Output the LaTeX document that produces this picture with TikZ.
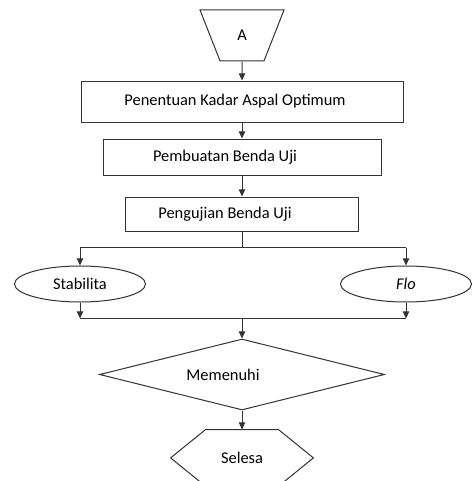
\documentclass[tikz,border=0pt]{standalone}
\usepackage{fontspec}
\setmainfont{Carlito}
\usepackage{tikz}
\usetikzlibrary{shapes,arrows,positioning,calc,arrows.meta}

\begin{document}
\begin{tikzpicture}[
    font=\fontsize{8.2pt}{10pt}\selectfont,
    line/.style={draw=black!80,line width=0.5pt},
    box/.style={rectangle,line,minimum height=18pt,inner sep=1pt,align=center},
    oval/.style={ellipse,line,minimum width=65.5pt,minimum height=18pt,inner sep=0pt},
    arrow/.style={line,-{Triangle[width=3.2pt,length=3.6pt]}}
    ]
    \useasboundingbox (0,0) rectangle (237pt,-240.5pt);

    \node[trapezium,line,shape border rotate=180,trapezium angle=67.6,trapezium stretches=true,
          minimum width=42pt,minimum height=25.5pt,inner sep=0pt] (start) at (121pt,-17.75pt) {A};
    \node[box,minimum width=161pt,minimum height=20.5pt,below=9.5pt of start] (kadar) {\hspace*{-7pt}Penentuan Kadar Aspal Optimum};
    \node[box,minimum width=139pt,below=8pt of kadar] (buat) {\hspace*{-17pt}Pembuatan Benda Uji};
    \node[box,minimum width=116.5pt,minimum height=17pt,below=10.5pt of buat] (uji) {\hspace*{-17pt}Pengujian Benda Uji};

    \node[oval] (stab) at (40pt,-142pt) {Stabilita};
    \node[oval] (flo) at (203pt,-142pt) {\textit{Flo}};

    \coordinate (split) at ($(uji.south)+(0,-8pt)$);
    \coordinate (merge) at ($(stab.south -| uji.south)+(0,-8pt)$);

    \node[diamond,line,minimum width=142.5pt,minimum height=35.5pt,inner sep=0pt,below=10pt of merge] (cek) {\hspace*{-19pt}Memenuhi};
    % hexagon drawn around a plain node
    \node[rectangle,minimum width=36pt,minimum height=28pt,inner sep=0pt,below=9.5pt of cek] (akhir) {Selesa};
    \draw[line] (akhir.north west)--(akhir.north east)--($(akhir.east)+(17.5pt,0)$)--(akhir.south east)
        --(akhir.south west)--($(akhir.west)+(-17.5pt,0)$)--cycle;

    \draw[arrow] (start)--(kadar);
    \draw[arrow] (kadar)--(buat);
    \draw[arrow] (buat)--(uji);
    \draw[line] (uji.south)--(split);
    \draw[line] (split -| stab)--(split -| flo);
    \draw[arrow] (split -| stab)--(stab);
    \draw[arrow] (split -| flo)--(flo);
    \draw[arrow] (stab)--(merge -| stab);
    \draw[arrow] (flo)--(merge -| flo);
    \draw[line] (merge -| stab)--(merge -| flo);
    \draw[arrow] (merge)--(cek);
    \draw[arrow] (cek)--(akhir);

  \end{tikzpicture}
\end{document}
